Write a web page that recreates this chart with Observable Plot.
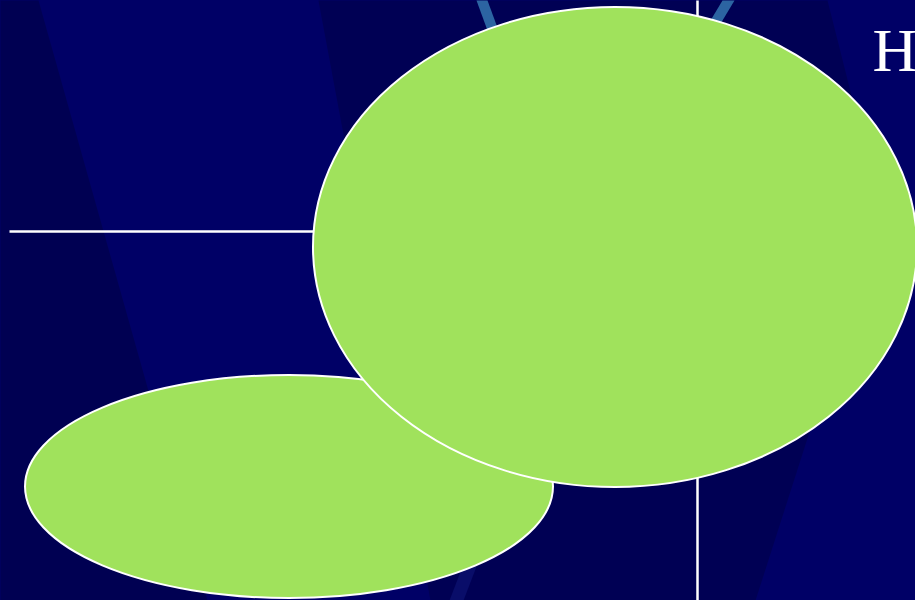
<!DOCTYPE html>
<html>
<head>
<meta charset="utf-8">
<script src="https://cdn.jsdelivr.net/npm/d3@7"></script>
<script src="https://cdn.jsdelivr.net/npm/@observablehq/plot@0.6"></script>
<style>
  html, body { margin: 0; padding: 0; background: #000066; overflow: hidden; }
  #chart svg { display: block; }
</style>
</head>
<body>
<div id="chart"></div>
<script>
// ---- Background bands (slide units: 915 x 600) ----
const bandLeftX = [0, 38, 207, 0];
const bandLeftY = [0, 0, 600, 600];
const bandMidX = [318, 827, 880, 755, 430];
const bandMidY = [0, 0, 210, 600, 600];

// ---- Light blue ribbons ----
const ribbonLeftX = [476, 487, 520, 509];
const ribbonLeftY = [0, 0, 90, 90];
const ribbonRightX = [722, 734, 698, 686];
const ribbonRightY = [0, 0, 60, 60];
const ribbonLowX = [472, 486, 463, 449];
const ribbonLowY = [540, 540, 600, 600];

// ---- Connector lines ----
const hLineX = [9, 315];
const hLineY = [231, 231];
const vLineX = [697, 697];
const vLineY = [0, 600];

// ---- Ellipses ----
const shapeNames = ["lower", "upper"];
const shapeCx = [289, 615];
const shapeCy = [486.5, 247];
const shapeRx = [264, 302];
const shapeRy = [111.5, 240];

// ---- Title text ----
const titleText = ["H"];
const titleX = [872];
const titleY = [70];

const shapes = shapeNames.map((name, i) => ({name, cx: shapeCx[i], cy: shapeCy[i], rx: shapeRx[i], ry: shapeRy[i]}));

function poly(X, Y, fill, opts = {}) {
  return Plot.line({length: X.length}, {x: X, y: Y, fill, stroke: "none", curve: "linear-closed", ...opts});
}

const plot = Plot.plot({
  width: 915,
  height: 600,
  margin: 0,
  style: {background: "#000066", overflow: "hidden"},
  x: {domain: [0, 915], range: [0, 915], axis: null},
  y: {domain: [0, 600], range: [0, 600], axis: null},
  marks: [
    poly(bandLeftX, bandLeftY, "#000052"),
    poly(bandMidX, bandMidY, "#000054"),
    poly(ribbonLeftX, ribbonLeftY, "#2c64a2"),
    poly(ribbonRightX, ribbonRightY, "#2c64a2"),
    poly(ribbonLowX, ribbonLowY, "#10187a", {fillOpacity: 0.55}),
    Plot.line({length: 2}, {x: hLineX, y: hLineY, stroke: "white", strokeWidth: 2.5, strokeLinecap: "butt"}),
    Plot.line({length: 2}, {x: vLineX, y: vLineY, stroke: "white", strokeWidth: 2.5, strokeLinecap: "butt"}),
    Plot.dot(shapes, {
      x: "cx",
      y: "cy",
      render(index, scales, values) {
        const g = d3.create("svg:g");
        for (const i of index) {
          const d = shapes[i];
          g.append("ellipse")
            .attr("cx", values.x[i])
            .attr("cy", values.y[i])
            .attr("rx", Math.abs(scales.x(d.cx + d.rx) - scales.x(d.cx)))
            .attr("ry", Math.abs(scales.y(d.cy + d.ry) - scales.y(d.cy)))
            .attr("fill", "#a0e25c")
            .attr("stroke", "white")
            .attr("stroke-width", 2);
        }
        return g.node();
      }
    }),
    Plot.text(titleText, {
      x: titleX,
      y: titleY,
      text: d => d,
      fill: "white",
      fontSize: 62,
      fontFamily: "Liberation Serif, Times New Roman, serif",
      textAnchor: "start",
      lineAnchor: "bottom"
    })
  ]
});

document.getElementById("chart").appendChild(plot);
</script>
</body>
</html>
